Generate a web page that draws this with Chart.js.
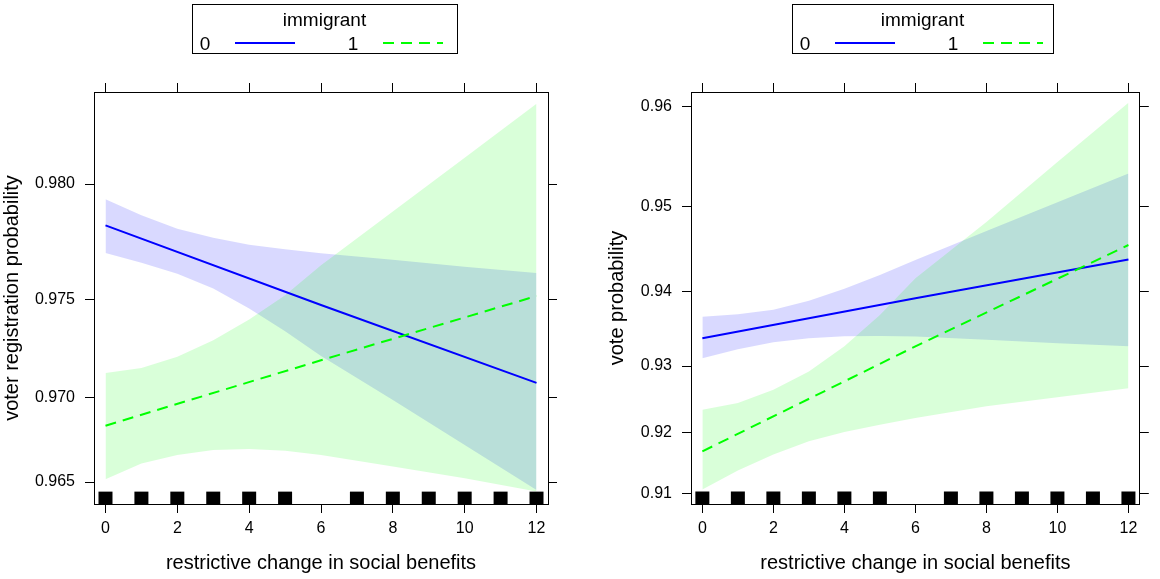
<!DOCTYPE html>
<html>
<head>
<meta charset="utf-8">
<script src="https://cdn.jsdelivr.net/npm/chart.js@4.4.1/dist/chart.umd.min.js"></script>
<style>
  body { margin: 0; background: #fff; }
  .wrap { display: flex; width: 1160px; height: 579px; }
  canvas { display: block; }
</style>
</head>
<body>
<div class="wrap">
  <canvas id="regChart" width="580" height="579"></canvas>
  <canvas id="voteChart" width="580" height="579"></canvas>
</div>
<script>
// x values
const xTicks = [0, 2, 4, 6, 8, 10, 12];
const rugX = [0, 1, 2, 3, 4, 5, 7, 8, 9, 10, 11, 12];
const lineX = [0, 6, 12];
const bandX = [0, 1, 2, 3, 4, 5, 6, 8, 10, 12];
const groupLabels = ['0', '1'];
const legendTitle = 'immigrant';
const xTitle = 'restrictive change in social benefits';

// voter registration panel
const regTicks = [0.965, 0.970, 0.975, 0.980];
const regFit0 = [0.97832, 0.97474, 0.97078];
const regFit1 = [0.96839, 0.97198, 0.97517];
const regUp0 = [0.97939, 0.97874, 0.97818, 0.97779, 0.97749, 0.97730, 0.97712, 0.97683, 0.97652, 0.97624];
const regLo0 = [0.97713, 0.97670, 0.97620, 0.97552, 0.97457, 0.97346, 0.97220, 0.96984, 0.96726, 0.96450];
const regUp1 = [0.97131, 0.97158, 0.97216, 0.97301, 0.97404, 0.97521, 0.97658, 0.97890, 0.98101, 0.98295];
const regLo1 = [0.96517, 0.96615, 0.96666, 0.96696, 0.96702, 0.96692, 0.96666, 0.96596, 0.96523, 0.96440];

// vote panel
const voteTicks = [0.91, 0.92, 0.93, 0.94, 0.95, 0.96];
const voteFit0 = [0.93387, 0.93914, 0.94394];
const voteFit1 = [0.91705, 0.93276, 0.94564];
const voteUp0 = [0.93676, 0.93708, 0.93766, 0.93881, 0.94033, 0.94206, 0.94386, 0.94725, 0.95046, 0.95349];
const voteLo0 = [0.93110, 0.93236, 0.93334, 0.93387, 0.93415, 0.93418, 0.93410, 0.93366, 0.93319, 0.93276];
const voteUp1 = [0.92358, 0.92458, 0.92656, 0.92923, 0.93276, 0.93699, 0.94164, 0.94828, 0.95466, 0.96034];
const voteLo1 = [0.91069, 0.91389, 0.91652, 0.91867, 0.92012, 0.92125, 0.92230, 0.92410, 0.92546, 0.92680];

Chart.defaults.font.family = '"Liberation Sans", Arial, sans-serif';
Chart.defaults.color = '#000';

// inverse normal (Acklam)
function qnorm(p) {
  const a = [-3.969683028665376e+01, 2.209460984245205e+02, -2.759285104469687e+02, 1.383577518672690e+02, -3.066479806614716e+01, 2.506628277459239e+00];
  const b = [-5.447609879822406e+01, 1.615858368580409e+02, -1.556989798598866e+02, 6.680131188771972e+01, -1.328068155288572e+01];
  const c = [-7.784894002430293e-03, -3.223964580411365e-01, -2.400758277161838e+00, -2.549732539343734e+00, 4.374664141464968e+00, 2.938163982698783e+00];
  const d = [7.784695709041462e-03, 3.224671290700398e-01, 2.445134137142996e+00, 3.754408661907416e+00];
  const pl = 0.02425;
  let q, r;
  if (p < pl) {
    q = Math.sqrt(-2 * Math.log(p));
    return (((((c[0]*q+c[1])*q+c[2])*q+c[3])*q+c[4])*q+c[5]) / ((((d[0]*q+d[1])*q+d[2])*q+d[3])*q+1);
  }
  if (p > 1 - pl) {
    q = Math.sqrt(-2 * Math.log(1 - p));
    return -(((((c[0]*q+c[1])*q+c[2])*q+c[3])*q+c[4])*q+c[5]) / ((((d[0]*q+d[1])*q+d[2])*q+d[3])*q+1);
  }
  q = p - 0.5; r = q * q;
  return (((((a[0]*r+a[1])*r+a[2])*r+a[3])*r+a[4])*r+a[5])*q / (((((b[0]*r+b[1])*r+b[2])*r+b[3])*r+b[4])*r+1);
}
function pnorm(z) {
  const t = 1 / (1 + 0.2316419 * Math.abs(z));
  const d = 0.3989423 * Math.exp(-z * z / 2);
  const p = d * t * (0.3193815 + t * (-0.3565638 + t * (1.781478 + t * (-1.821256 + t * 1.330274))));
  return z > 0 ? 1 - p : p;
}

// probit axis, like the effects plot
class ProbitScale extends Chart.Scale {
  static id = 'probit';
  static defaults = {};
  determineDataLimits() {
    this.min = this.options.min;
    this.max = this.options.max;
  }
  buildTicks() {
    return this.options.tickValues.map(v => ({ value: v }));
  }
  getLabelForValue(v) {
    return String(v);
  }
  configure() {
    super.configure();
    this._zMin = qnorm(this.min);
    this._zRange = qnorm(this.max) - this._zMin;
  }
  getPixelForValue(v) {
    return this.getPixelForDecimal((qnorm(v) - this._zMin) / this._zRange);
  }
  getValueForPixel(px) {
    return pnorm(this._zMin + this.getDecimalForPixel(px) * this._zRange);
  }
}
Chart.register(ProbitScale);

const legendBox = {
  id: 'legendBox',
  afterDraw(chart, args, o) {
    const ctx = chart.ctx;
    ctx.save();
    ctx.lineWidth = 1;
    ctx.strokeStyle = '#000';
    ctx.strokeRect(o.left + 0.5, o.top + 0.5, o.width, o.height);
    ctx.fillStyle = '#000';
    ctx.font = '19px "Liberation Sans", Arial, sans-serif';
    ctx.textAlign = 'center';
    ctx.textBaseline = 'middle';
    ctx.fillText(legendTitle, o.left + o.width / 2, o.top + 17);
    groupLabels.forEach((lab, i) => {
      const ds = chart.data.datasets[2 - i];
      const x0 = o.left + 13 + i * 148;
      ctx.fillText(lab, x0, o.top + 41);
      ctx.strokeStyle = ds.borderColor;
      ctx.lineWidth = 2;
      ctx.setLineDash(ds.borderDash || []);
      ctx.beginPath();
      ctx.moveTo(x0 + 30, o.top + 39);
      ctx.lineTo(x0 + 90, o.top + 39);
      ctx.stroke();
    });
    ctx.restore();
  }
};

function makePanel(id, p) {
  const pts = (xs, ys) => xs.map((x, i) => ({ x: x, y: ys[i] }));
  const band = (ys, fillTo, color) => ({
    data: pts(bandX, ys), borderWidth: 0, pointRadius: 0,
    fill: fillTo === undefined ? false : fillTo, backgroundColor: color || 'transparent'
  });
  const grid = { display: true, drawOnChartArea: false, drawTicks: true, tickLength: 9, color: '#000', lineWidth: 1 };
  const border = { display: true, color: '#000', width: 1 };
  const setXTicks = s => { s.ticks = xTicks.map(v => ({ value: v })); };

  new Chart(document.getElementById(id), {
    type: 'line',
    data: {
      datasets: [
        { data: rugX.map(x => ({ x: x, y: 0.015 })), yAxisID: 'yr', showLine: false,
          pointStyle: 'line', pointRotation: 90, pointRadius: 6.2, pointBorderWidth: 14,
          pointBorderColor: '#000' },
        { data: pts(lineX, p.fit1), yAxisID: 'y', borderColor: '#00FF00', borderWidth: 2,
          borderDash: [11, 7], pointRadius: 0, fill: false },
        { data: pts(lineX, p.fit0), yAxisID: 'y', borderColor: '#0000FF', borderWidth: 2,
          pointRadius: 0, fill: false },
        band(p.up1, 4, 'rgba(0,255,0,0.15)'),
        band(p.lo1),
        band(p.up0, 6, 'rgba(0,0,255,0.15)'),
        band(p.lo0)
      ]
    },
    options: {
      responsive: false,
      animation: false,
      events: [],
      layout: { padding: 0 },
      plugins: {
        legend: { display: false },
        tooltip: { enabled: false },
        legendBox: p.legend
      },
      scales: {
        x: {
          type: 'linear', position: 'bottom', min: -0.32, max: 12.32,
          afterBuildTicks: setXTicks, afterFit: s => { s.height = 75; },
          grid: grid, border: border,
          ticks: { font: { size: 16 }, color: '#000', padding: 6, maxRotation: 0, autoSkip: false },
          title: { display: true, text: xTitle, font: { size: 20 }, color: '#000', padding: { top: 0, bottom: 4 } }
        },
        x2: {
          type: 'linear', position: 'top', min: -0.32, max: 12.32,
          afterBuildTicks: setXTicks, afterFit: s => { s.height = 92; },
          grid: grid, border: border, ticks: { display: false }
        },
        y: {
          type: 'probit', position: 'left', min: p.yMin, max: p.yMax, tickValues: p.yTicks,
          afterFit: s => { s.width = p.leftW; },
          grid: grid, border: border,
          ticks: { callback: v => v.toFixed(p.digits), padding: 10, font: { size: 16 }, color: '#000' },
          title: { display: true, text: p.yTitle, font: { size: 20 }, color: '#000', padding: { top: p.titlePad, bottom: 0 } }
        },
        y2: {
          type: 'probit', position: 'right', min: p.yMin, max: p.yMax, tickValues: p.yTicks,
          afterFit: s => { s.width = p.rightW; },
          grid: grid, border: border, ticks: { display: false }
        },
        yr: { type: 'linear', axis: 'y', display: false, min: 0, max: 1 }
      }
    },
    plugins: [legendBox]
  });
}

makePanel('regChart', {
  fit0: regFit0, fit1: regFit1, up0: regUp0, lo0: regLo0, up1: regUp1, lo1: regLo1,
  yTicks: regTicks, yMin: 0.9636, yMax: 0.98335, digits: 3,
  yTitle: 'voter registration probability', titlePad: 0, leftW: 94, rightW: 32,
  legend: { left: 192, top: 4, width: 265, height: 49 }
});

makePanel('voteChart', {
  fit0: voteFit0, fit1: voteFit1, up0: voteUp0, lo0: voteLo0, up1: voteUp1, lo1: voteLo1,
  yTicks: voteTicks, yMin: 0.9082, yMax: 0.9613, digits: 2,
  yTitle: 'vote probability', titlePad: 25, leftW: 111, rightW: 7,
  legend: { left: 212, top: 4, width: 261, height: 49 }
});
</script>
</body>
</html>
